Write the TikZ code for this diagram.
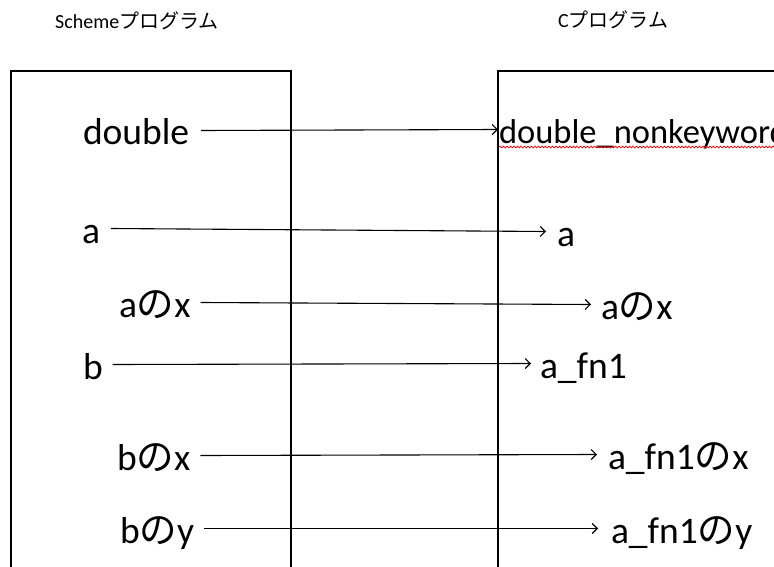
\documentclass[tikz,border=0pt]{standalone}
\usepackage{fontspec}
\setmainfont{Carlito}
\newfontfamily\jp{Noto Sans CJK JP}
\usetikzlibrary{arrows.meta,decorations.pathmorphing}
\begin{document}
\begin{tikzpicture}[x=1pt,y=-1pt,
  lbl/.style={anchor=base west,inner sep=0pt,outer sep=0pt,text height=29pt,text depth=0pt,font=\fontsize{37.5}{40}\selectfont},
  ttl/.style={anchor=base west,inner sep=0pt,font=\fontsize{20}{24}\selectfont},
  box/.style={line width=2pt},
  arr/.style={line width=1.1pt,-{Straight Barb[length=5pt,width=10pt]}},
  squig/.style={draw=red!90!black,line width=0.7pt,decorate,decoration={snake,amplitude=0.9pt,segment length=3.5pt}}]
\useasboundingbox (0,0) rectangle (774,567);
\clip (0,0) rectangle (774,567);
% titles
\node[ttl] (t1) at (55,29) {Scheme{\jp プログラム}};
\node[ttl] (t2) at (558,28) {C{\jp プログラム}};
% boxes
\draw[box] (11,600) -- (11,71) -- (291,71) -- (291,600);
\draw[box] (498,600) -- (498,71) -- (800,71);
% left labels
\node[lbl] (l1) at (83,145) {double};
\node[lbl] (l2) at (82,243) {a};
\node[lbl] (l3) at (119,317) {a{\jp の}x};
\node[lbl] (l4) at (83,379) {b};
\node[lbl] (l5) at (117,470) {b{\jp の}x};
\node[lbl] (l6) at (120,543) {b{\jp の}y};
% right labels
\node[lbl,font=\fontsize{34.5}{40}\selectfont] (r1) at (499,144) {double\_nonkeyword};
\node[lbl] (r2) at (557,246) {a};
\node[lbl] (r3) at (601,319) {a{\jp の}x};
\node[lbl] (r4) at (540,378) {a\_fn1};
\node[lbl] (r5) at (608,469) {a\_fn1{\jp の}x};
\node[lbl] (r6) at (611,543) {a\_fn1{\jp の}y};
% spell-check squiggle
\path[squig] ([yshift=-3pt]r1.base west) -- ([yshift=-3pt]r1.base east);
% arrows
\draw[arr] ([xshift=12pt]l1.east) -- ([xshift=-1pt]r1.west);
\draw[arr] ([xshift=11pt]l2.east) -- ([xshift=-11pt]r2.west);
\draw[arr] ([xshift=10pt]l3.east) -- ([xshift=-10pt]r3.west);
\draw[arr] ([xshift=10pt]l4.east) -- ([xshift=-9pt]r4.west);
\draw[arr] ([xshift=10pt]l5.east) -- ([xshift=-11pt]r5.west);
\draw[arr] ([xshift=10pt]l6.east) -- ([xshift=-13pt]r6.west);
\end{tikzpicture}
\end{document}
